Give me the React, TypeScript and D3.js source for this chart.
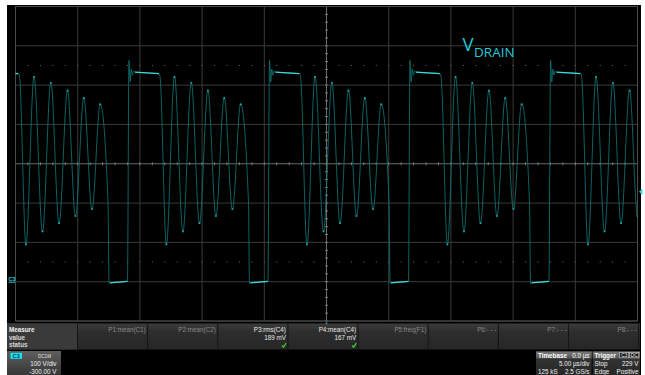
import React from 'react';
import * as d3 from 'd3';

// Drain voltage trace: key points (time in µs, voltage in V) of the
// switching waveform — clamp plateau, resonant ringing, valley turn-on.
const traceTime = [
  -25.3, -24.76, -24.68, -24.16, -23.51, -22.83, -22.16, -21.5, -20.82, -20.18, -19.51, -18.85, -18.19, -17.56, -17.48, -17.4, -16.0,
  -15.88, -15.78, -15.7, -15.61, -15.52, -15.4, -13.47, -13.39, -12.87, -12.22, -11.54, -10.87, -10.21, -9.53, -8.89, -8.22, -7.56, -6.9, -6.27, -6.19, -6.11, -4.71,
  -4.58, -4.48, -4.4, -4.31, -4.22, -4.1, -2.17, -2.09, -1.57, -0.92, -0.24, 0.43, 1.09, 1.77, 2.41, 3.08, 3.74, 4.4, 5.03, 5.11, 5.19, 6.59,
  6.71, 6.81, 6.89, 6.98, 7.07, 7.19, 9.12, 9.2, 9.72, 10.37, 11.05, 11.72, 12.38, 13.06, 13.7, 14.37, 15.03, 15.69, 16.32, 16.4, 16.48, 17.88,
  18.01, 18.11, 18.19, 18.28, 18.37, 18.49, 20.42, 20.5, 21.02, 21.67, 22.35, 23.02, 23.68, 24.36, 25.0, 25.67,
];
const traceVolt = [
  530, 529, 523, 93, 523, 126, 508, 147, 488, 165, 469, 183, 453, 200, -5, -3, 1,
  563, 508, 541, 525, 536, 533, 529, 523, 93, 523, 126, 508, 147, 488, 165, 469, 183, 453, 200, -5, -3, 1,
  563, 508, 541, 525, 536, 533, 529, 523, 93, 523, 126, 508, 147, 488, 165, 469, 183, 453, 200, -5, -3, 1,
  563, 508, 541, 525, 536, 533, 529, 523, 93, 523, 126, 508, 147, 488, 165, 469, 183, 453, 200, -5, -3, 1,
  563, 508, 541, 525, 536, 533, 529, 523, 93, 523, 126, 508, 147, 488, 165, 469,
];

// Acquisition settings
const timeDomain = [-25, 25]; // µs, 5 µs/div, 10 div
const voltDomain = [-100, 700]; // V, 100 V/div, offset -300 V
const triggerLevel = 229;
const dottedLevels = [50, 550];

// Measurement table
const measureParams = ['P1:mean(C1)', 'P2:mean(C2)', 'P3:rms(C4)', 'P4:mean(C4)', 'P5:freq(F1)', 'P6:- - -', 'P7:- - -', 'P8:- - -'];
const measureValues = ['', '', '189 mV', '167 mV', '', '', '', ''];
const measureActive = [false, false, true, true, false, false, false, false];
const measureRows = ['Measure', 'value', 'status'];

const UI_FONT = "'Liberation Sans', Arial, sans-serif";

export default function App() {
  const W = 645;
  const H = 375;
  const gx0 = 15.5;
  const gx1 = 637.5;
  const gy0 = 6.5;
  const gy1 = 321;

  const x = d3.scaleLinear().domain(timeDomain).range([gx0, gx1]);
  const y = d3.scaleLinear().domain(voltDomain).range([gy1, gy0]);

  const pts: [number, number][] = traceTime.map((t, i) => [t, traceVolt[i]]);
  const line = d3
    .line<[number, number]>()
    .x((d) => x(d[0]))
    .y((d) => y(d[1]))
    .curve(d3.curveMonotoneX);
  const straight = d3
    .line<[number, number]>()
    .x((d) => x(d[0]))
    .y((d) => y(d[1]));

  // Slow (nearly flat) portions of the trace are drawn brighter, as on a scope display
  const flats: [number, number][][] = [];
  for (let i = 0; i < pts.length - 1; i++) {
    const a = pts[i];
    const b = pts[i + 1];
    const slope = Math.abs((b[1] - a[1]) / (b[0] - a[0]));
    if (slope < 20 && b[0] - a[0] > 0.5) flats.push([a, b]);
  }
  // Turning points of the ringing also dwell longer and glow a little
  const tips: [number, number][] = [];
  for (let i = 1; i < pts.length - 1; i++) {
    const p = pts[i - 1][1];
    const c = pts[i][1];
    const n = pts[i + 1][1];
    if ((c > p && c > n) || (c < p && c < n)) {
      if (pts[i + 1][0] - pts[i - 1][0] > 1) tips.push(pts[i]);
    }
  }

  const vLines = d3.range(timeDomain[0], timeDomain[1] + 0.01, 5);
  const hLines = d3.range(voltDomain[0], voltDomain[1] + 0.01, 100);
  const minorX = d3.range(timeDomain[0], timeDomain[1] + 0.01, 1);
  const minorY = d3.range(voltDomain[0], voltDomain[1] + 0.01, 20);

  const colX = d3.range(0, 9).map((i) => 77.5 + 70.15 * i);

  const traceColor = '#0f7476';
  const tipColor = '#2aa9ab';
  const brightColor = '#3fd8d8';

  return (
    <svg
      width={W}
      height={H}
      style={{ position: 'absolute', left: 0, top: 0, background: '#fff' }}
    >
      <defs>
        <clipPath id="gridClip">
          <rect x={gx0} y={gy0} width={gx1 - gx0} height={gy1 - gy0} />
        </clipPath>
        <linearGradient id="boxGrad" x1="0" y1="0" x2="0" y2="1">
          <stop offset="0" stopColor="#5e5e5e" />
          <stop offset="1" stopColor="#363636" />
        </linearGradient>
        <linearGradient id="hdrGrad" x1="0" y1="0" x2="0" y2="1">
          <stop offset="0" stopColor="#7a7a7a" />
          <stop offset="1" stopColor="#555" />
        </linearGradient>
        <linearGradient id="bodyGrad" x1="0" y1="0" x2="0" y2="1">
          <stop offset="0" stopColor="#3a3a3a" />
          <stop offset="1" stopColor="#262626" />
        </linearGradient>
        <linearGradient id="tableGrad" x1="0" y1="0" x2="0" y2="1">
          <stop offset="0" stopColor="#3c3c3c" />
          <stop offset="0.3" stopColor="#2e2e2e" />
          <stop offset="1" stopColor="#262626" />
        </linearGradient>
      </defs>

      {/* screen background */}
      <rect x={7} y={5} width={634} height={370} fill="#000" />

      {/* graticule */}
      <g>
        {vLines.map((t) => (
          <line
            key={'v' + t}
            x1={x(t)}
            x2={x(t)}
            y1={gy0}
            y2={gy1}
            stroke={t === 0 ? '#6a6a6a' : '#3a3a3a'}
            strokeWidth={1}
          />
        ))}
        {hLines.map((v) => (
          <line
            key={'h' + v}
            x1={gx0}
            x2={gx1}
            y1={y(v)}
            y2={y(v)}
            stroke={v === 300 ? '#6a6a6a' : '#3a3a3a'}
            strokeWidth={1}
          />
        ))}
        {/* minor ticks on the center axes */}
        {minorX.map((t) => (
          <line
            key={'mx' + t}
            x1={x(t)}
            x2={x(t)}
            y1={y(300) - 1.5}
            y2={y(300) + 1.5}
            stroke="#7a7a7a"
            strokeWidth={1}
          />
        ))}
        {minorY.map((v) => (
          <line
            key={'my' + v}
            x1={x(0) - 1.5}
            x2={x(0) + 1.5}
            y1={y(v)}
            y2={y(v)}
            stroke="#7a7a7a"
            strokeWidth={1}
          />
        ))}
        {dottedLevels.map((v) =>
          minorX.map((t) => (
            <rect key={'d' + v + '_' + t} x={x(t) - 0.5} y={y(v) - 0.5} width={1} height={1} fill="#6a6a6a" />
          ))
        )}
        <rect x={gx0} y={gy0} width={gx1 - gx0} height={gy1 - gy0} fill="none" stroke="#4a4a4a" strokeWidth={1} />
      </g>

      {/* waveform */}
      <g clipPath="url(#gridClip)">
        <path d={line(pts) || ''} fill="none" stroke={traceColor} strokeWidth={0.85} />
        {tips.map((p, i) => (
          <line
            key={'tp' + i}
            x1={x(p[0]) - 0.8}
            x2={x(p[0]) + 0.8}
            y1={y(p[1]) + (p[1] > 300 ? 0.8 : -0.8)}
            y2={y(p[1]) + (p[1] > 300 ? 0.8 : -0.8)}
            stroke={tipColor}
            strokeWidth={1.6}
          />
        ))}
        {flats.map((seg, i) => (
          <path key={'f' + i} d={straight(seg) || ''} fill="none" stroke={brightColor} strokeWidth={1.3} />
        ))}
      </g>

      {/* trace label */}
      <text x={462.5} y={50.5} fill="#22c8d6" fontFamily="'Open Sans', sans-serif" fontSize={18.5}>
        V
      </text>
      <text x={474} y={56.5} fill="#22c8d6" fontFamily="'Open Sans', sans-serif" fontSize={13.5}>
        DRAIN
      </text>

      {/* ground reference marker */}
      <text x={8.5} y={y(0) - 0.5} fill="#2fd0d8" fontFamily={UI_FONT} fontSize={5.5} fontWeight="bold">
        C3
      </text>
      <line x1={8.5} x2={15} y1={y(0) + 0.5} y2={y(0) + 0.5} stroke="#2fd0d8" strokeWidth={1} />

      {/* trigger level marker */}
      <path
        d={`M${gx1 + 1.5},${y(triggerLevel)} L${gx1 + 5},${y(triggerLevel) - 3} L${gx1 + 5},${y(triggerLevel) + 3} Z`}
        fill="#2fd8e0"
      />

      {/* trigger position marker */}
      <path d={`M${x(0)},${gy1 + 1} L${x(0) + 3},${gy1 + 5.5} L${x(0) - 3},${gy1 + 5.5} Z`} fill="#2fd8e0" />

      {/* measurement table */}
      <g fontFamily={UI_FONT} fontSize={6.3}>
        <rect x={7} y={323.5} width={633} height={26} fill="url(#tableGrad)" />
        <rect x={7} y={323.5} width={70.5} height={26} fill="#3a3a3a" />
        {colX.map((cx, i) => (
          <line key={'c' + i} x1={cx} x2={cx} y1={323.5} y2={349.5} stroke="#141414" strokeWidth={1} />
        ))}
        {measureRows.map((r, i) => (
          <text key={r} x={9} y={332 + i * 7.6} fill={i === 0 ? '#f0f0f0' : '#d8d8d8'} fontWeight="bold">
            {r}
          </text>
        ))}
        {measureParams.map((p, i) => (
          <text
            key={p}
            x={colX[i + 1] - 2}
            y={332}
            textAnchor="end"
            fill={measureActive[i] ? '#e8e8e8' : '#8a8a8a'}
          >
            {p}
          </text>
        ))}
        {measureValues.map((v, i) =>
          v ? (
            <text key={'val' + i} x={colX[i + 1] - 2} y={339.6} textAnchor="end" fill="#e8e8e8">
              {v}
            </text>
          ) : null
        )}
        {measureActive.map((a, i) =>
          a ? (
            <path
              key={'chk' + i}
              d={`M${colX[i + 1] - 6},${345.5} L${colX[i + 1] - 4.5},${347.2} L${colX[i + 1] - 1.8},${343.2}`}
              fill="none"
              stroke="#3ccf3c"
              strokeWidth={1.2}
            />
          ) : null
        )}
      </g>

      {/* channel descriptor */}
      <g fontFamily={UI_FONT}>
        <rect x={7} y={351} width={54} height={24} fill="url(#boxGrad)" />
        <rect x={10.5} y={352.8} width={11.5} height={6} fill="#19e4f0" />
        <text x={16.2} y={357.9} textAnchor="middle" fontSize={5.6} fontWeight="bold" fill="#1a2f6a">
          C3
        </text>
        <text x={51} y={357.6} textAnchor="end" fontSize={4.6} fill="#e0e0e0">
          DC1M
        </text>
        <text x={56.5} y={366.2} textAnchor="end" fontSize={6.3} fill="#f0f0f0">
          100 V/div
        </text>
        <text x={56.5} y={373.6} textAnchor="end" fontSize={6.3} fill="#f0f0f0">
          -300.00 V
        </text>
      </g>

      {/* timebase descriptor */}
      <g fontFamily={UI_FONT} fontSize={6.3}>
        <rect x={536} y={351.5} width={55.7} height={23.5} fill="url(#bodyGrad)" />
        <rect x={536} y={351.5} width={55.7} height={7} fill="url(#hdrGrad)" />
        <text x={538} y={357.5} fill="#fff" fontWeight="bold">
          Timebase
        </text>
        <text x={589.5} y={357.5} textAnchor="end" fill="#fff">
          0.0 µs
        </text>
        <text x={589.5} y={366} textAnchor="end" fill="#f0f0f0">
          5.00 µs/div
        </text>
        <text x={538} y={373.5} fill="#f0f0f0">
          125 kS
        </text>
        <text x={589.5} y={373.5} textAnchor="end" fill="#f0f0f0">
          2.5 GS/s
        </text>
      </g>

      {/* trigger descriptor */}
      <g fontFamily={UI_FONT} fontSize={6.3}>
        <rect x={592.7} y={351.5} width={47.3} height={23.5} fill="url(#bodyGrad)" />
        <rect x={592.7} y={351.5} width={47.3} height={7} fill="url(#hdrGrad)" />
        <text x={594.5} y={357.5} fill="#fff" fontWeight="bold">
          Trigger
        </text>
        <rect x={619.8} y={352.4} width={9} height={5.4} fill="#111" stroke="#ddd" strokeWidth={0.6} />
        <text x={624.3} y={357} textAnchor="middle" fontSize={4.8} fill="#fff">
          C3
        </text>
        <rect x={629.8} y={352.4} width={9} height={5.4} fill="#111" stroke="#ddd" strokeWidth={0.6} />
        <text x={634.3} y={357} textAnchor="middle" fontSize={4.8} fill="#fff">
          DC
        </text>
        <text x={594.5} y={366} fill="#f0f0f0">
          Stop
        </text>
        <text x={638.5} y={366} textAnchor="end" fill="#f0f0f0">
          229 V
        </text>
        <text x={594.5} y={373.5} fill="#f0f0f0">
          Edge
        </text>
        <text x={638.5} y={373.5} textAnchor="end" fill="#f0f0f0">
          Positive
        </text>
      </g>
    </svg>
  );
}
